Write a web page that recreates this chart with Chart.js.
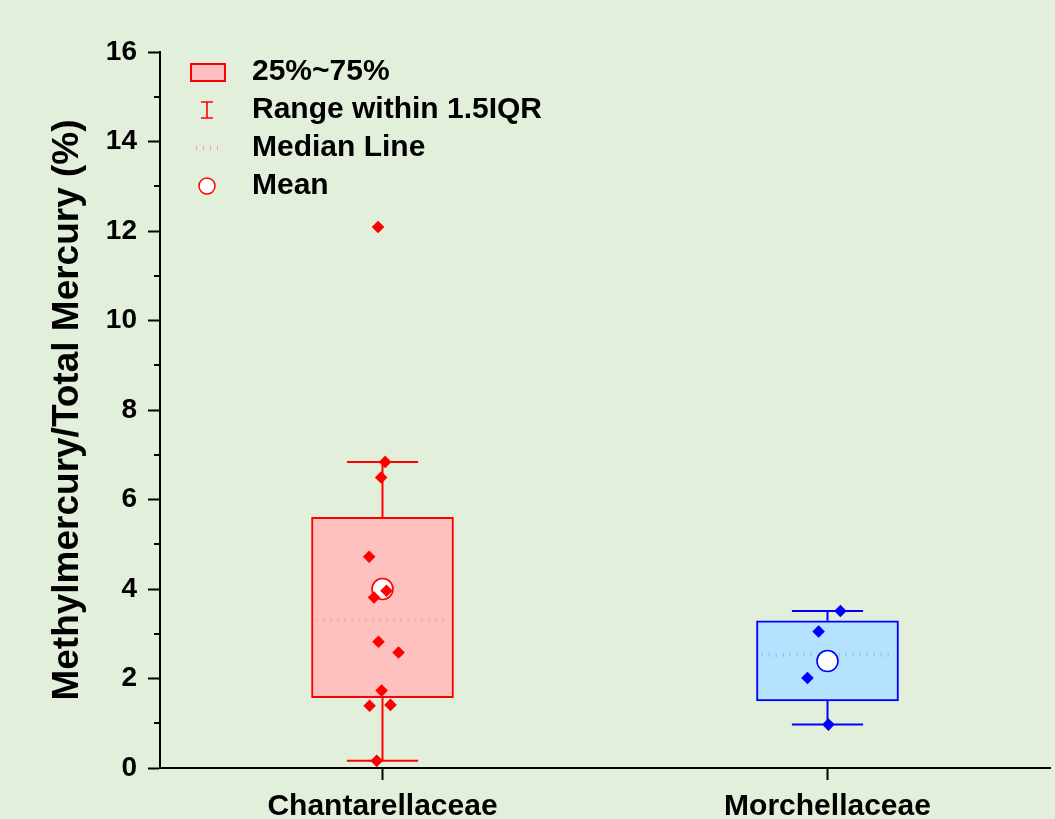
<!DOCTYPE html>
<html><head><meta charset="utf-8">
<script src="https://cdn.jsdelivr.net/npm/chart.js"></script>
<style>html,body{margin:0;padding:0;background:#E2EFDA;} canvas{display:block}</style>
</head><body>
<canvas id="c" width="1055" height="819"></canvas>
<script>
// ---- data ----
const categories = ['Chantarellaceae', 'Morchellaceae'];
const categoryX = [0.5, 1.5];
const yTickValues = [0, 2, 4, 6, 8, 10, 12, 14, 16];
const q1 = [1.57, 1.50];
const q3 = [5.60, 3.29];
const medians = [3.32, 2.53];
const means = [4.00, 2.39];
const whiskerLow = [0.16, 0.97];
const whiskerHigh = [6.84, 3.51];
const chantValues = [12.09, 6.84, 6.49, 4.72, 3.96, 3.81, 2.82, 2.58, 1.73, 1.41, 1.39, 0.16];
const chantJitter = [-0.010, 0.006, -0.003, -0.030, 0.009, -0.019, -0.009, 0.036, -0.002, 0.018, -0.029, -0.013];
const morchValues = [3.51, 3.05, 2.01, 0.97];
const morchJitter = [0.029, -0.020, -0.045, 0.002];
const legendLabels = ['25%~75%', 'Range within 1.5IQR', 'Median Line', 'Mean'];
const yTitle = 'Methylmercury/Total Mercury (%)';

// ---- styles ----
const FONT = "'Liberation Sans', Arial, sans-serif";
const BG = '#E2EFDA';
const lineColors = ['#FF0000', '#0000FF'];
const boxFills = ['#FFC0C0', '#B5E2FF'];
const medianColors = ['#F4A0A0', '#86B8F2'];
const CAP_HALF = 0.08;    // in x units
const MED_HALF = 0.148;   // in x units

const datasets = [];
// diamonds (top)
datasets.push({
  type: 'scatter', order: 0,
  data: chantValues.map((v, i) => ({x: categoryX[0] + chantJitter[i], y: v})),
  pointStyle: 'rectRot', pointRadius: 6.3, pointBorderWidth: 0,
  backgroundColor: lineColors[0], borderColor: lineColors[0]
});
datasets.push({
  type: 'scatter', order: 0,
  data: morchValues.map((v, i) => ({x: categoryX[1] + morchJitter[i], y: v})),
  pointStyle: 'rectRot', pointRadius: 6.3, pointBorderWidth: 0,
  backgroundColor: lineColors[1], borderColor: lineColors[1]
});
// means
datasets.push({
  type: 'scatter', order: 1,
  data: means.map((m, i) => ({x: categoryX[i], y: m})),
  pointStyle: 'circle', pointRadius: 10.5, pointBorderWidth: 1.6,
  pointBackgroundColor: '#FFFFFF', pointBorderColor: lineColors
});
// whiskers, caps, medians
function seg(pts, color, width, dash) {
  return {type: 'line', order: 2, data: pts, borderColor: color, borderWidth: width,
    borderDash: dash || [], pointRadius: 0, fill: false, tension: 0, borderCapStyle: 'butt'};
}
categoryX.forEach((cx, i) => {
  datasets.push(seg([{x: cx, y: whiskerLow[i]}, {x: cx, y: q1[i]}], lineColors[i], 2));
  datasets.push(seg([{x: cx, y: q3[i]}, {x: cx, y: whiskerHigh[i]}], lineColors[i], 2));
  datasets.push(seg([{x: cx - CAP_HALF, y: whiskerLow[i]}, {x: cx + CAP_HALF, y: whiskerLow[i]}], lineColors[i], 2));
  datasets.push(seg([{x: cx - CAP_HALF, y: whiskerHigh[i]}, {x: cx + CAP_HALF, y: whiskerHigh[i]}], lineColors[i], 2));
  datasets.push(seg([{x: cx - MED_HALF, y: medians[i]}, {x: cx + MED_HALF, y: medians[i]}], medianColors[i], 4, [1, 6]));
});
// boxes
datasets.push({
  type: 'bar', order: 3,
  data: categoryX.map((cx, i) => ({x: cx, y: [q1[i], q3[i]]})),
  backgroundColor: boxFills, borderColor: lineColors, borderWidth: 2,
  borderSkipped: false, barThickness: 142
});

const bgPlugin = {
  id: 'bg',
  beforeDraw(chart) {
    const c = chart.ctx; c.save(); c.fillStyle = BG;
    c.fillRect(0, 0, chart.width, chart.height); c.restore();
  }
};
const minorTicks = {
  id: 'minorTicks',
  afterDraw(chart) {
    const y = chart.scales.y, c = chart.ctx, left = chart.chartArea.left;
    c.save(); c.strokeStyle = '#000'; c.lineWidth = 2;
    for (let v = 1; v < 16; v += 2) {
      const py = Math.round(y.getPixelForValue(v));
      c.beginPath(); c.moveTo(left - 6, py); c.lineTo(left, py); c.stroke();
    }
    c.restore();
  }
};
const legendPlugin = {
  id: 'customLegend',
  afterDraw(chart) {
    const c = chart.ctx; c.save();
    const sx = 207, tx = 252, rows = [72, 110, 148, 186];
    // box
    c.fillStyle = boxFills[0]; c.strokeStyle = lineColors[0]; c.lineWidth = 2;
    c.fillRect(191, rows[0] - 8, 34, 17); c.strokeRect(191, rows[0] - 8, 34, 17);
    // range symbol
    c.lineWidth = 1.6; c.beginPath();
    c.moveTo(sx, rows[1] - 8); c.lineTo(sx, rows[1] + 8);
    c.moveTo(sx - 6, rows[1] - 8); c.lineTo(sx + 6, rows[1] - 8);
    c.moveTo(sx - 6, rows[1] + 8); c.lineTo(sx + 6, rows[1] + 8);
    c.stroke();
    // median
    c.strokeStyle = medianColors[0]; c.lineWidth = 4; c.setLineDash([1, 6]);
    c.beginPath(); c.moveTo(196, rows[2]); c.lineTo(222, rows[2]); c.stroke();
    c.setLineDash([]);
    // mean
    c.fillStyle = '#FFFFFF'; c.strokeStyle = lineColors[0]; c.lineWidth = 1.5;
    c.beginPath(); c.arc(sx, rows[3], 8, 0, Math.PI * 2); c.fill(); c.stroke();
    // text
    c.fillStyle = '#000'; c.font = 'bold 30px ' + FONT; c.textBaseline = 'middle'; c.textAlign = 'left';
    legendLabels.forEach((t, i) => c.fillText(t, tx, rows[i]));
    c.restore();
  }
};

new Chart(document.getElementById('c'), {
  type: 'bar',
  data: {datasets},
  options: {
    responsive: false, animation: false, events: [], devicePixelRatio: 1,
    layout: {autoPadding: false, padding: {top: 52, right: 5, left: 0, bottom: 0}},
    plugins: {legend: {display: false}, tooltip: {enabled: false}},
    scales: {
      x: {
        type: 'linear', min: 0, max: 2, offset: false,
        afterBuildTicks(s) { s.ticks = categoryX.map(v => ({value: v})); },
        afterFit(s) { s.height = 51; },
        ticks: {callback: (v, i) => categories[i], color: '#000', padding: 9, maxRotation: 0, autoSkip: false,
          font: {family: FONT, size: 30, weight: 'bold'}},
        grid: {offset: false, drawOnChartArea: false, drawTicks: true, tickLength: 12, tickColor: '#000', tickWidth: 2},
        border: {display: true, color: '#000', width: 2}
      },
      y: {
        type: 'linear', min: 0, max: 16,
        afterBuildTicks(s) { s.ticks = yTickValues.map(v => ({value: v})); },
        afterFit(s) { s.width = 160; },
        ticks: {color: '#000', padding: 11, font: {family: FONT, size: 28, weight: 'bold'}},
        grid: {drawOnChartArea: false, drawTicks: true, tickLength: 12, tickColor: '#000', tickWidth: 2},
        border: {display: true, color: '#000', width: 2},
        title: {display: true, text: yTitle, color: '#000', padding: {top: 46, bottom: 0},
          font: {family: FONT, size: 37, weight: 'bold'}}
      }
    }
  },
  plugins: [bgPlugin, minorTicks, legendPlugin]
});
</script>
</body></html>
